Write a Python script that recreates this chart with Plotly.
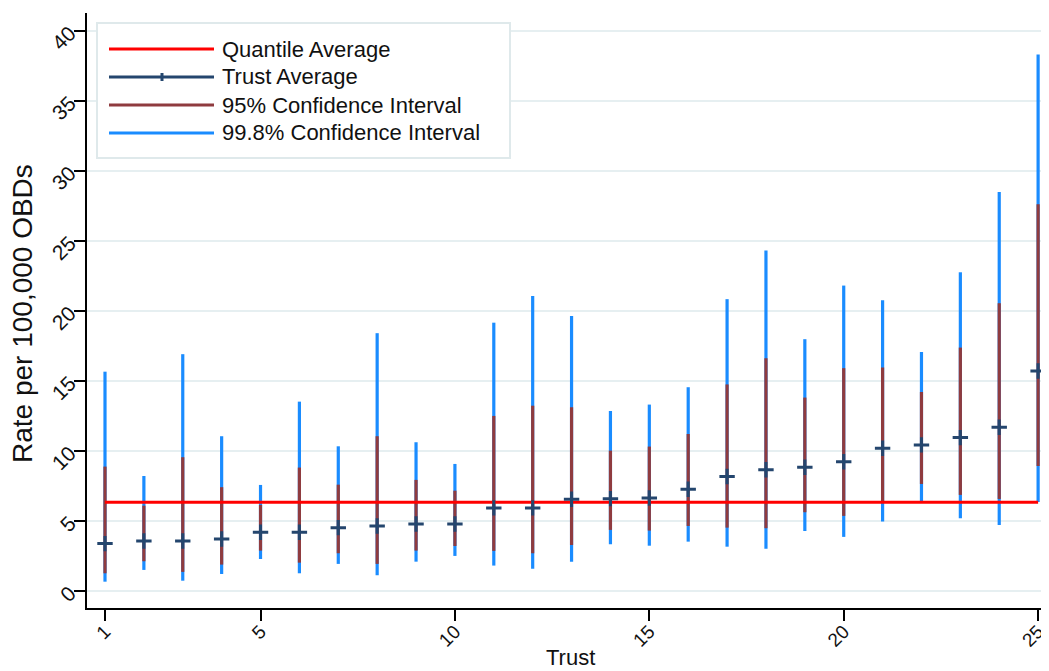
import plotly.graph_objects as go

# ---- data ----
trust = list(range(1, 26))
trust_avg = [3.36, 3.55, 3.55, 3.69, 4.17, 4.17, 4.50, 4.62, 4.76, 4.76, 5.91, 5.91, 6.53,
             6.57, 6.62, 7.24, 8.15, 8.64, 8.81, 9.21, 10.17, 10.41, 10.93, 11.67, 15.69]
ci95_low = [1.24, 2.10, 1.34, 1.86, 2.86, 2.00, 2.67, 1.91, 2.86, 3.19, 2.84, 2.67, 3.26,
            4.34, 4.29, 4.62, 4.50, 4.46, 5.60, 5.34, 6.41, 7.62, 6.84, 6.55, 8.91]
ci95_high = [8.86, 6.07, 9.53, 7.39, 6.12, 8.79, 7.57, 11.03, 7.91, 7.14, 12.48, 13.21, 13.10,
             10.00, 10.29, 11.19, 14.73, 16.60, 13.79, 15.89, 15.93, 14.19, 17.36, 20.53, 27.60]
ci998_low = [0.64, 1.48, 0.71, 1.19, 2.26, 1.24, 1.91, 1.10, 2.07, 2.48, 1.79, 1.57, 2.07,
             3.31, 3.21, 3.50, 3.14, 3.00, 4.26, 3.84, 4.93, 6.34, 5.17, 4.69, 6.34]
ci998_high = [15.64, 8.19, 16.89, 11.03, 7.55, 13.50, 10.31, 18.39, 10.60, 9.05, 19.14, 21.05, 19.62,
              12.84, 13.29, 14.53, 20.82, 24.29, 17.96, 21.79, 20.74, 17.05, 22.74, 28.48, 38.30]
quantile_avg = 6.31

x_ticks = [1, 5, 10, 15, 20, 25]
y_ticks = [0, 5, 10, 15, 20, 25, 30, 35, 40]

legend_labels = ["Quantile Average", "Trust Average", "95% Confidence Interval", "99.8% Confidence Interval"]
x_title = "Trust"
y_title = "Rate per 100,000 OBDs"

# ---- styles ----
RED = "#ff0000"
NAVY = "#24466e"
BROWN = "#8f3b3f"
BLUE = "#1a8cff"
GRID = "#e6eff1"
FONT = "Liberation Sans, Arial, sans-serif"
TXT = "#111111"

# The page body has an 8px default margin, so the figure is made 8px smaller
# and all screen positions are measured relative to the window.
OFF = 8
SCREEN_W, SCREEN_H = 1049, 671
W, H = SCREEN_W - OFF, SCREEN_H - OFF
PLOT_L, PLOT_R, PLOT_T, PLOT_B = 87, 1049, 13, 608  # plot area in window pixels
ML, MR, MT, MB = PLOT_L - OFF, SCREEN_W - PLOT_R, PLOT_T - OFF, SCREEN_H - PLOT_B


def segs(xs, lo, hi):
    xx, yy = [], []
    for x, a, b in zip(xs, lo, hi):
        xx += [x, x, None]
        yy += [a, b, None]
    return xx, yy


fig = go.Figure()

x998, y998 = segs(trust, ci998_low, ci998_high)
fig.add_trace(go.Scatter(x=x998, y=y998, mode="lines", line=dict(color=BLUE, width=3.2),
                         showlegend=False, hoverinfo="skip", cliponaxis=False))
x95, y95 = segs(trust, ci95_low, ci95_high)
fig.add_trace(go.Scatter(x=x95, y=y95, mode="lines", line=dict(color=BROWN, width=3.2),
                         showlegend=False, hoverinfo="skip", cliponaxis=False))
fig.add_trace(go.Scatter(x=[trust[0], trust[-1]], y=[quantile_avg, quantile_avg], mode="lines",
                         line=dict(color=RED, width=3), showlegend=False, cliponaxis=False))
fig.add_trace(go.Scatter(x=trust, y=trust_avg, mode="markers",
                         marker=dict(symbol="cross-thin", size=11,
                                     line=dict(color=NAVY, width=3), color=NAVY),
                         showlegend=False, cliponaxis=False))


# ---- manual legend (window pixel layout -> paper coords) ----
def px(x):
    return (x - PLOT_L) / (PLOT_R - PLOT_L)


def py(y):
    return (PLOT_B - y) / (PLOT_B - PLOT_T)


shapes = [dict(type="rect", xref="paper", yref="paper", x0=px(97), x1=px(510), y0=py(158), y1=py(23),
               line=dict(color="#dfe9eb", width=2), fillcolor="white", layer="above")]
rows_y = [49, 77, 105, 133]
cols = [RED, NAVY, BROWN, BLUE]
annotations = []
for ry, c, lab in zip(rows_y, cols, legend_labels):
    shapes.append(dict(type="line", xref="paper", yref="paper", x0=px(109), x1=px(214),
                       y0=py(ry), y1=py(ry), line=dict(color=c, width=3), layer="above"))
    annotations.append(dict(xref="paper", yref="paper", x=px(220), y=py(ry), text=lab,
                            showarrow=False, xanchor="left", yanchor="middle",
                            font=dict(family=FONT, size=22, color=TXT)))
# tick on the Trust Average legend line
shapes.append(dict(type="line", xref="paper", yref="paper", x0=px(162), x1=px(162),
                   y0=py(rows_y[1] - 4), y1=py(rows_y[1] + 4), line=dict(color=NAVY, width=3),
                   layer="above"))

# axis titles as annotations (positioned in window pixels)
annotations.append(dict(xref="paper", yref="paper", x=px(570), y=py(657), text=x_title,
                        showarrow=False, xanchor="center", yanchor="middle",
                        font=dict(family=FONT, size=22, color=TXT)))
annotations.append(dict(xref="paper", yref="paper", x=px(22), y=py(314), text=y_title,
                        showarrow=False, xanchor="center", yanchor="middle", textangle=-90,
                        font=dict(family=FONT, size=28, color=TXT)))

fig.update_layout(
    width=W, height=H,
    margin=dict(l=ML, r=MR, t=MT, b=MB, pad=0, autoexpand=False),
    paper_bgcolor="white", plot_bgcolor="white",
    font=dict(family=FONT, color=TXT),
    shapes=shapes, annotations=annotations,
    showlegend=False,
)
fig.update_xaxes(
    range=[0.537, 25.28], tickvals=x_ticks, ticktext=[str(v) for v in x_ticks],
    tickangle=-45, tickfont=dict(size=19, family=FONT, color=TXT),
    ticks="outside", ticklen=11, tickwidth=2, tickcolor="black",
    ticklabelstandoff=-8,
    showline=True, linecolor="black", linewidth=2, showgrid=False, zeroline=False,
    automargin=False,
)
fig.update_yaxes(
    range=[-1.24, 41.26], tickvals=y_ticks, ticktext=[str(v) for v in y_ticks],
    tickangle=-45, tickfont=dict(size=21, family=FONT, color=TXT),
    ticks="outside", ticklen=11, tickwidth=2, tickcolor="black",
    showline=True, linecolor="black", linewidth=2,
    showgrid=True, gridcolor=GRID, gridwidth=2, zeroline=False,
    automargin=False,
)

fig.write_html("out.html")
